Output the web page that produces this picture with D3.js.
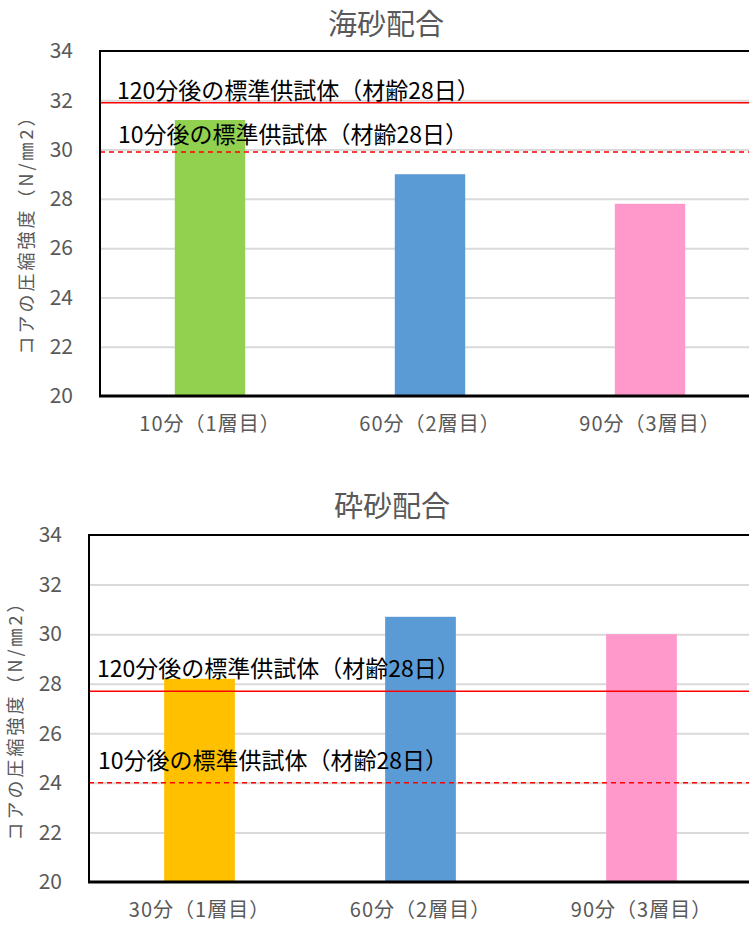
<!DOCTYPE html>
<html>
<head>
<meta charset="utf-8">
<script src="https://cdn.jsdelivr.net/npm/d3@7"></script>
<style>
  body { margin: 0; background: #fff; }
  text { font-family: "Noto Sans CJK JP", "Noto Sans", sans-serif; }
</style>
</head>
<body>
<svg id="chart" width="749" height="927"></svg>
<script>
// data
const seaTitle = "海砂配合";
const seaCategories = ["10分（1層目）", "60分（2層目）", "90分（3層目）"];
const seaValues = [31.2, 29.0, 27.8];
const seaRefSolid = 31.9;   // 120分後の標準供試体
const seaRefDashed = 29.9;  // 10分後の標準供試体

const crushedTitle = "砕砂配合";
const crushedCategories = ["30分（1層目）", "60分（2層目）", "90分（3層目）"];
const crushedValues = [28.2, 30.7, 30.0];
const crushedRefSolid = 27.7;
const crushedRefDashed = 24.0;

const yTicks = [20, 22, 24, 26, 28, 30, 32, 34];
const refLabelSolid = "120分後の標準供試体（材齢28日）";
const refLabelDashed = "10分後の標準供試体（材齢28日）";
const yAxisTitle = "コアの圧縮強度（N/㎜2）";

const seaColors = ["#92d050", "#5b9bd5", "#ff99cc"];
const crushedColors = ["#ffc000", "#5b9bd5", "#ff99cc"];

const svg = d3.select("#chart");
const grey = "#595959";

function drawChart(cfg) {
  const g = svg.append("g");
  const x = d3.scaleBand().domain(cfg.categories).range([cfg.left, cfg.right]);
  const y = d3.scaleLinear().domain([20, 34]).range([cfg.bottom, cfg.top]);
  const w = cfg.right - cfg.left;

  // title
  g.append("text")
    .attr("x", cfg.titleX).attr("y", cfg.titleY)
    .attr("text-anchor", "middle")
    .attr("fill", grey).attr("font-size", "29px")
    .text(cfg.title);

  // gridlines
  const grid = g.append("g")
    .attr("transform", `translate(${cfg.left},0)`)
    .call(d3.axisLeft(y).tickValues(yTicks.slice(1, -1)).tickSize(-w).tickFormat(""));
  grid.select(".domain").remove();
  grid.selectAll("line").attr("stroke", "#d9d9d9").attr("stroke-width", 2);

  // tick labels
  const yAx = g.append("g")
    .attr("transform", `translate(${cfg.left - 27},0)`)
    .call(d3.axisLeft(y).tickValues(yTicks).tickSize(0).tickPadding(0));
  yAx.select(".domain").remove();
  yAx.selectAll("text")
    .attr("fill", grey).attr("font-size", "21px")
    .style("font-family", "'Noto Sans CJK JP', sans-serif");

  // bars
  const barW = x.bandwidth() * 0.32;
  g.selectAll("rect.bar").data(cfg.values).join("rect")
    .attr("class", "bar")
    .attr("x", (d, i) => x(cfg.categories[i]) + x.bandwidth() / 2 - barW / 2)
    .attr("y", d => y(d))
    .attr("width", barW)
    .attr("height", d => y(20) - y(d))
    .attr("fill", (d, i) => cfg.colors[i]);

  // reference lines
  g.append("line")
    .attr("x1", cfg.left).attr("x2", cfg.right)
    .attr("y1", y(cfg.refSolid)).attr("y2", y(cfg.refSolid))
    .attr("stroke", "#ff0000").attr("stroke-width", 1.5);
  g.append("line")
    .attr("x1", cfg.left).attr("x2", cfg.right)
    .attr("y1", y(cfg.refDashed)).attr("y2", y(cfg.refDashed))
    .attr("stroke", "#ff0000").attr("stroke-width", 1.5)
    .attr("stroke-dasharray", "5,4");

  // reference labels
  g.append("text")
    .attr("x", cfg.left + cfg.labelDx).attr("y", y(cfg.refSolid) - cfg.solidDy)
    .attr("font-size", "23px").attr("fill", "#000")
    .text(refLabelSolid);
  g.append("text")
    .attr("x", cfg.left + cfg.labelDx + 1).attr("y", y(cfg.refDashed) - cfg.dashedDy)
    .attr("font-size", "23px").attr("fill", "#000")
    .text(refLabelDashed);

  // frame
  g.append("path")
    .attr("d", `M${cfg.right},${cfg.top}H${cfg.left}V${cfg.bottom}`)
    .attr("fill", "none").attr("stroke", "#000").attr("stroke-width", 2);
  g.append("line")
    .attr("x1", cfg.left - 1).attr("x2", cfg.right)
    .attr("y1", cfg.bottom).attr("y2", cfg.bottom)
    .attr("stroke", "#000").attr("stroke-width", 3);

  // category labels
  const xAx = g.append("g")
    .attr("transform", `translate(0,${cfg.bottom + 28})`)
    .call(d3.axisBottom(x).tickSize(0).tickPadding(0));
  xAx.select(".domain").remove();
  xAx.selectAll("text")
    .attr("dy", "0.35em")
    .attr("fill", grey).attr("font-size", "20px")
    .attr("letter-spacing", "1px")
    .style("font-family", "'Noto Sans CJK JP', sans-serif");

  // y axis title
  g.append("text")
    .attr("transform", `translate(${cfg.yTitleX},${cfg.yTitleY}) rotate(-90)`)
    .attr("text-anchor", "middle")
    .attr("fill", grey).attr("font-size", "18px")
    .attr("letter-spacing", "3px")
    .text(yAxisTitle);
}

drawChart({
  title: seaTitle, categories: seaCategories, values: seaValues, colors: seaColors,
  refSolid: seaRefSolid, refDashed: seaRefDashed,
  left: 100, right: 760, top: 51, bottom: 396,
  titleX: 386, titleY: 35, yTitleX: 33, yTitleY: 230,
  labelDx: 17, solidDy: 4, dashedDy: 9
});

drawChart({
  title: crushedTitle, categories: crushedCategories, values: crushedValues, colors: crushedColors,
  refSolid: crushedRefSolid, refDashed: crushedRefDashed,
  left: 89, right: 752, top: 535, bottom: 882,
  titleX: 392, titleY: 517, yTitleX: 22, yTitleY: 716,
  labelDx: 8, solidDy: 14, dashedDy: 14
});
</script>
</body>
</html>
